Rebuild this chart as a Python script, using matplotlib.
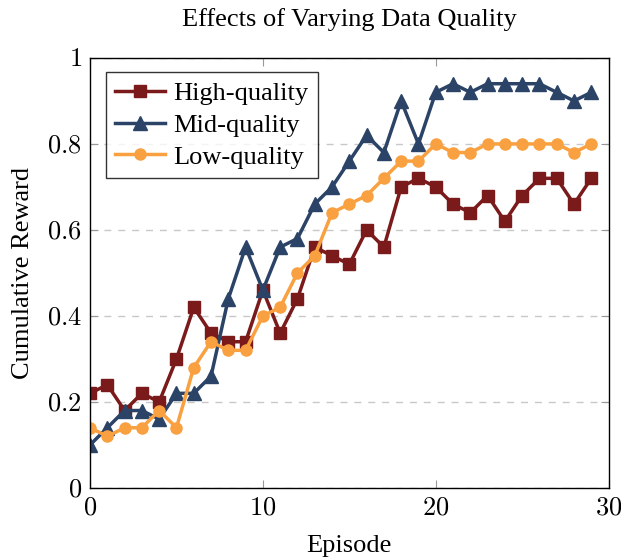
import matplotlib
matplotlib.use("Agg")
import matplotlib.pyplot as plt

episodes = list(range(30))
high = [0.22, 0.24, 0.18, 0.22, 0.20, 0.30, 0.42, 0.36, 0.34, 0.34,
        0.46, 0.36, 0.44, 0.56, 0.54, 0.52, 0.60, 0.56, 0.70, 0.72,
        0.70, 0.66, 0.64, 0.68, 0.62, 0.68, 0.72, 0.72, 0.66, 0.72]
mid = [0.10, 0.14, 0.18, 0.18, 0.16, 0.22, 0.22, 0.26, 0.44, 0.56,
       0.46, 0.56, 0.58, 0.66, 0.70, 0.76, 0.82, 0.78, 0.90, 0.80,
       0.92, 0.94, 0.92, 0.94, 0.94, 0.94, 0.94, 0.92, 0.90, 0.92]
low = [0.14, 0.12, 0.14, 0.14, 0.18, 0.14, 0.28, 0.34, 0.32, 0.32,
       0.40, 0.42, 0.50, 0.54, 0.64, 0.66, 0.68, 0.72, 0.76, 0.76,
       0.80, 0.78, 0.78, 0.80, 0.80, 0.80, 0.80, 0.80, 0.78, 0.80]
x_ticks = [0, 10, 20, 30]
x_tick_labels = ['0', '10', '20', '30']
y_ticks = [0, 0.2, 0.4, 0.6, 0.8, 1.0]
y_tick_labels = ['0', '0.2', '0.4', '0.6', '0.8', '1']

plt.rcParams['font.family'] = ['Liberation Serif', 'DejaVu Serif']
plt.rcParams['mathtext.fontset'] = 'cm'

fig = plt.figure(figsize=(6.21, 5.57), dpi=100)
ax = fig.add_axes([0.145, 0.124, 0.835, 0.772])

ax.plot(episodes, high, color='#7a1a1a', marker='s', markersize=8, linewidth=2.5, label='High-quality')
ax.plot(episodes, mid, color='#2b4366', marker='^', markersize=10, linewidth=2.5, label='Mid-quality')
ax.plot(episodes, low, color='#f9a040', marker='o', markersize=8, linewidth=2.5, label='Low-quality')

ax.set_xlim(0, 30)
ax.set_ylim(0, 1)
ax.set_xticks(x_ticks)
ax.set_xticklabels(['$' + t + '$' for t in x_tick_labels])
ax.set_yticks(y_ticks)
ax.set_yticklabels(['$' + t + '$' for t in y_tick_labels])
ax.yaxis.grid(True, linestyle=(0, (5, 5)), color='#c8c8c8', linewidth=1)
ax.set_axisbelow(True)
ax.tick_params(direction='in', top=True, right=True, labelsize=19, length=6, color='#999999')
ax.tick_params(axis='x', pad=7)
ax.tick_params(axis='y', pad=6)
for s in ax.spines.values():
    s.set_linewidth(1.0)

ax.set_xlabel('Episode', fontsize=19, labelpad=11)
ax.set_ylabel('Cumulative Reward', fontsize=19, labelpad=9)
ax.set_title('Effects of Varying Data Quality', fontsize=19, pad=23)

leg = ax.legend(loc='upper left', fontsize=19, frameon=True, fancybox=False,
                edgecolor='black', handlelength=1.9, handletextpad=0.3,
                borderpad=0.35, labelspacing=0.32, borderaxespad=0,
                bbox_to_anchor=(0.031, 0.967))
leg.get_frame().set_linewidth(1.0)

fig.savefig('out.png', dpi=100)
